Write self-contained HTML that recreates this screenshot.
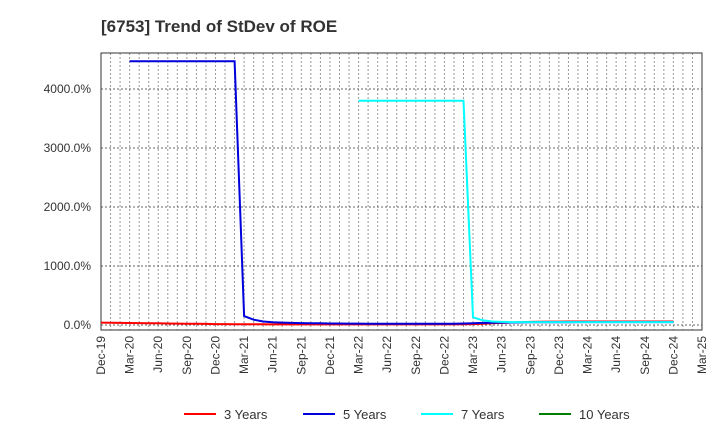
<!DOCTYPE html>
<html><head><meta charset="utf-8"><style>
body{margin:0;background:#fff;font-family:"Liberation Sans",Arial,sans-serif;}
svg text{font-family:"Liberation Sans",Arial,sans-serif;}
</style></head><body>
<svg id="c" width="720" height="440" xmlns="http://www.w3.org/2000/svg">
<text x="101" y="32" font-size="17" font-weight="bold" fill="#333">[6753]  Trend of StDev of ROE</text>
</svg>
<script>
const xTickLabels=["Dec-19","Mar-20","Jun-20","Sep-20","Dec-20","Mar-21","Jun-21","Sep-21","Dec-21","Mar-22","Jun-22","Sep-22","Dec-22","Mar-23","Jun-23","Sep-23","Dec-23","Mar-24","Jun-24","Sep-24","Dec-24","Mar-25"];
const yTicks=[0,1000,2000,3000,4000];
const seriesNames=["3 Years","5 Years","7 Years","10 Years"];
const seriesColors=["#ff0000","#0000dd","#00ffff","#008000"];
const N=null;
const red=[40,38,36,34,32,30,28,26,24,22,20,18,16,15,14,13,12,12,11,11,10,10,10,10,10,10,10,10,10,10,10,10,10,10,10,10,10,10,12,15,20,28,35,42,48,52,55,57,58,59,60,60,60,60,60,60,60,60,60,60,60];
const blue=[N,N,N,4470,4470,4470,4470,4470,4470,4470,4470,4470,4470,4470,4470,150,90,60,45,40,35,32,30,28,26,25,24,23,22,22,21,21,20,20,20,20,20,22,25,30,35,38,40,42,44,45,46,47,48,48,49,49,50,50,50,50,50,50,50,50,50];
const cyan=[N,N,N,N,N,N,N,N,N,N,N,N,N,N,N,N,N,N,N,N,N,N,N,N,N,N,N,3800,3800,3800,3800,3800,3800,3800,3800,3800,3800,3800,3800,130,80,60,52,50,50,50,50,50,50,50,50,50,50,50,50,50,50,50,50,50,50];
const ten=[];
const L=101,R=702,T=53,B=330;
const x=i=>L+(R-L)*i/63;
const y=v=>325-v*0.059;
const svg=document.getElementById('c');
const NS="http://www.w3.org/2000/svg";
function mk(t,a){const e=document.createElementNS(NS,t);for(const k in a)e.setAttribute(k,a[k]);svg.appendChild(e);return e;}
for(let m=1;m<63;m++){const g=mk('line',{x1:x(m),x2:x(m),y1:T,y2:B,stroke:'#999','stroke-dasharray':'2,2','stroke-width':1});

}
yTicks.forEach(v=>{const g=mk('line',{x1:L,x2:R,y1:y(v),y2:y(v),stroke:'#666','stroke-dasharray':'2,2','stroke-width':1});


const t=mk('text',{x:L-10,y:y(v)+4,'text-anchor':'end','font-size':12,fill:'#333'});t.textContent=v.toFixed(1)+'%';

});
const fr=mk('rect',{x:L,y:T,width:R-L,height:B-T,fill:'none',stroke:'#333','stroke-width':1});


xTickLabels.forEach((s,i)=>{const px=x(i*3);const t=mk('text',{transform:`translate(${px+4},${B+6}) rotate(-90)`,'text-anchor':'end','font-size':12,fill:'#333'});t.textContent=s;

});
[red,blue,cyan,ten].forEach((arr,k)=>{let d='';let pen=false;arr.forEach((v,i)=>{if(v===null){pen=false;return;}d+=(pen?'L':'M')+x(i).toFixed(1)+','+y(v).toFixed(1);pen=true;});
if(d){const p=mk('path',{d:d,fill:'none',stroke:seriesColors[k],'stroke-width':2});

}});
const lx=[184,303,421,539];
seriesNames.forEach((s,k)=>{const l=mk('line',{x1:lx[k],x2:lx[k]+32,y1:414,y2:414,stroke:seriesColors[k],'stroke-width':2});


const t=mk('text',{x:lx[k]+40,y:419,'font-size':13,fill:'#333'});t.textContent=s;

});
</script>
</body></html>
